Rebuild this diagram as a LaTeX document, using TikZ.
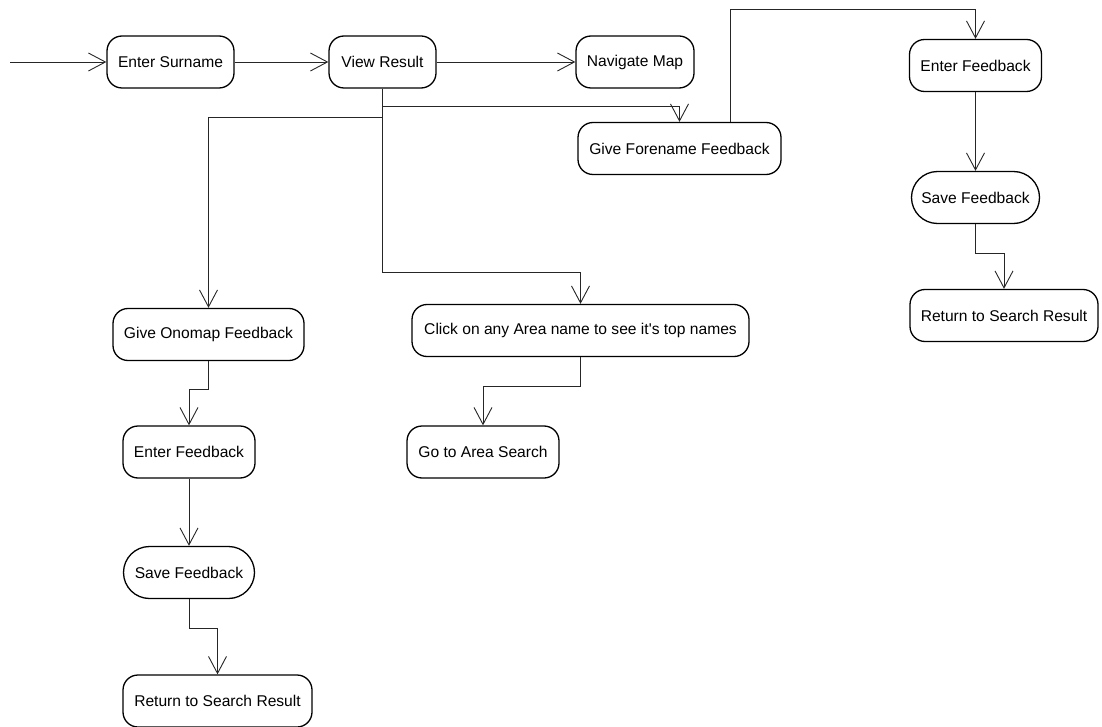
\documentclass[tikz,border=0pt]{standalone}
\usepackage{fontspec}
\setmainfont{Liberation Sans}
\usetikzlibrary{arrows.meta}
\begin{document}
\begin{tikzpicture}[x=1pt,y=-1pt,
  activity/.style={draw=black, line width=1.3pt, rounded corners=15pt,
    minimum height=52pt, inner sep=0pt, align=center,
    font=\fontsize{15.6}{18}\selectfont},
  stadium/.style={activity, rounded corners=26pt},
  flow/.style={draw=black!85, line width=0.9pt,
    -{Straight Barb[length=17pt, width=18pt, line width=0.9pt]}}
]
\useasboundingbox (0,0) rectangle (1102,727);

% top row
\coordinate (start) at (10,62);
\node[activity, minimum width=127pt] (es)  at (170.5,62) {Enter Surname};
\node[activity, minimum width=107pt] (vr)  at (382.5,62) {View Result};
\node[activity, minimum width=118pt] (nm)  at (635,62)   {Navigate Map};

% forename feedback branch
\node[activity, minimum width=203pt] (gff) at (679.5,148.5) {Give Forename Feedback};
\node[activity, minimum width=132pt] (efr) at (975.5,65.5)  {Enter Feedback};
\node[stadium,  minimum width=128pt] (sfr) at (975.5,197.5) {Save Feedback};
\node[activity, minimum width=188pt] (rsr) at (1004,315.5)  {Return to Search Result};

% area branch
\node[activity, minimum width=337pt] (click) at (580.5,330.5) {Click on any Area name to see it\textquotesingle s top names};
\node[activity, minimum width=152pt] (gas)   at (483,452)     {Go to Area Search};

% onomap feedback branch
\node[activity, minimum width=191pt] (gof) at (208.5,334.5) {Give Onomap Feedback};
\node[activity, minimum width=132pt] (efl) at (189,452)     {Enter Feedback};
\node[stadium,  minimum width=131pt] (sfl) at (189,572.5)   {Save Feedback};
\node[activity, minimum width=189pt] (rsl) at (217.5,701)   {Return to Search Result};

% connectors
\draw[flow] (start) -- (es.west);
\draw[flow] (es) -- (vr);
\draw[flow] (vr) -- (nm);

\draw[flow] (vr.south) -- ++(0,18) -| (gff.north);
\draw[flow] (vr.south) -- ++(0,29) -| (gof.north);
\draw[flow] (vr.south) -- ++(0,184) -| (click.north);

\draw[flow] ([xshift=50.5pt]gff.north) -- ++(0,-112) -| (efr.north);
\draw[flow] (efr) -- (sfr);
\draw[flow] (sfr.south) -- ++(0,29) -| (rsr.north);

\draw[flow] (click.south) -- ++(0,29) -| (gas.north);

\draw[flow] (gof.south) -- ++(0,28) -| (efl.north);
\draw[flow] (efl) -- (sfl);
\draw[flow] (sfl.south) -- ++(0,29) -| (rsl.north);
\end{tikzpicture}
\end{document}
